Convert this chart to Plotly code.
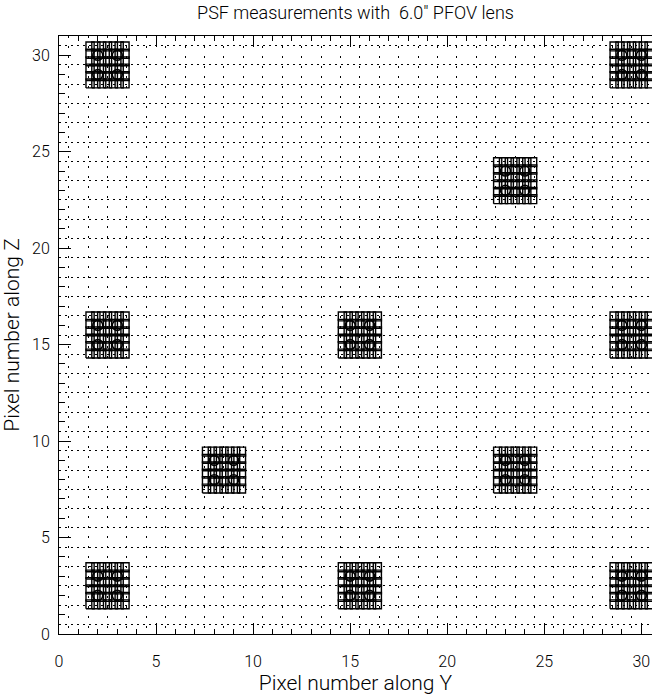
import numpy as np
import plotly.graph_objects as go

title_text = "PSF measurements with  6.0\" PFOV lens"
x_label = "Pixel number along Y"
y_label = "Pixel number along Z"

# Centres of the 2x2-pixel PSF measurement blocks (Y, Z)
block_y = [2.5, 29.5, 23.5, 2.5, 15.5, 29.5, 8.5, 23.5, 2.5, 15.5, 29.5]
block_z = [29.5, 29.5, 23.5, 15.5, 15.5, 15.5, 8.5, 8.5, 2.5, 2.5, 2.5]

# Sub-pixel scan offsets inside each block and the footprint box size
scan_dy = [-0.9, -0.6, -0.3, 0.0, 0.3, 0.6, 0.9]
scan_dz = [-0.96, -0.58, -0.19, 0.19, 0.58, 0.96]
box_w = 0.42
box_h = 0.46

# Offsets of the four pixel centres from the block centre
pix_off = [-0.5, 0.5]

x_ticks = [0, 5, 10, 15, 20, 25, 30]
y_ticks = [0, 5, 10, 15, 20, 25, 30]

# Closed rectangle outlines for every scan position
bx, bz = [], []
for cy, cz in zip(block_y, block_z):
    for dz in scan_dz:
        for dy in scan_dy:
            x0, x1 = cy + dy - box_w / 2, cy + dy + box_w / 2
            z0, z1 = cz + dz - box_h / 2, cz + dz + box_h / 2
            bx += [x0, x1, x1, x0, x0, None]
            bz += [z0, z0, z1, z1, z0, None]

# Pixel centres marked with rings
px, pz = [], []
for cy, cz in zip(block_y, block_z):
    for oz in pix_off:
        for oy in pix_off:
            px.append(cy + oy)
            pz.append(cz + oz)

FAMILY = "Roboto, sans-serif"
tick_font = dict(family=FAMILY, size=16, color="black", weight=300)
axis_font = dict(family=FAMILY, size=21, color="black", weight=300)
title_font = dict(family=FAMILY, size=18, color="black", weight=300)

fig = go.Figure()
fig.add_trace(go.Scatter(x=bx, y=bz, mode="lines",
                         line=dict(color="black", width=1.4),
                         hoverinfo="skip", showlegend=False))
fig.add_trace(go.Scatter(x=px, y=pz, mode="markers",
                         marker=dict(symbol="circle-open", size=10,
                                     color="black", line=dict(width=1.6)),
                         hoverinfo="skip", showlegend=False))
# carrier trace for the half-pixel grid axes
fig.add_trace(go.Scatter(x=[None], y=[None], xaxis="x2", yaxis="y2",
                         showlegend=False, hoverinfo="skip"))

xr = [0, 30.55]
yr = [0, 31]

fig.update_layout(
    width=653, height=700,
    margin=dict(l=59, r=1, t=36, b=66),
    paper_bgcolor="white", plot_bgcolor="white",
    font=tick_font,
    title=dict(text=title_text, x=0.5, xref="paper", xanchor="center",
               y=1 - 13 / 700, yref="container", yanchor="middle",
               font=title_font),
    xaxis=dict(range=xr, tickvals=x_ticks, ticks="inside", ticklen=11,
               tickcolor="black", tickwidth=1, showgrid=False, zeroline=False,
               showline=True, linecolor="black", linewidth=1, mirror="ticks",
               ticklabelstandoff=13, tickfont=tick_font,
               minor=dict(dtick=1, tick0=0, ticks="inside", ticklen=5,
                          tickcolor="black", showgrid=False),
               title=dict(text=x_label, standoff=2, font=axis_font)),
    yaxis=dict(range=yr, tickvals=y_ticks, ticks="inside", ticklen=12,
               tickcolor="black", tickwidth=1, showgrid=False, zeroline=False,
               showline=True, linecolor="black", linewidth=1, mirror=False,
               ticklabelstandoff=5, tickfont=tick_font,
               minor=dict(dtick=1, tick0=0, ticks="inside", ticklen=6,
                          tickcolor="black", showgrid=False),
               title=dict(text=y_label, standoff=7, font=axis_font)),
    xaxis2=dict(range=xr, overlaying="x", tick0=0.5, dtick=1, showgrid=True,
                gridcolor="black", gridwidth=1, griddash="2px,8px",
                showticklabels=False, ticks="", zeroline=False, showline=False),
    yaxis2=dict(range=yr, overlaying="y", tick0=0.5, dtick=1, showgrid=True,
                gridcolor="black", gridwidth=1, griddash="2px,4px",
                showticklabels=False, ticks="", zeroline=False, showline=False),
)

fig.write_html("out.html")
